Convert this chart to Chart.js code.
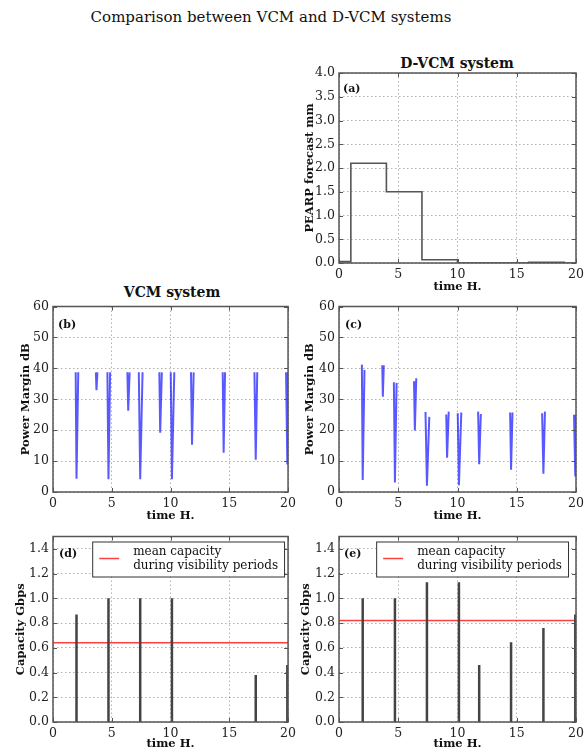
<!DOCTYPE html>
<html>
<head>
<meta charset="utf-8">
<script src="https://cdn.jsdelivr.net/npm/chart.js@4.4.1/dist/chart.umd.min.js"></script>
<style>
  body { margin: 0; background: #fff; width: 588px; height: 751px; overflow: hidden; position: relative; font-family: 'DejaVu Serif', serif; color: #111; }
  canvas { position: absolute; }
  .txt { position: absolute; transform: translate(-50%, -50%); white-space: nowrap; line-height: 1; }
  .lab { position: absolute; transform: translateY(-50%); white-space: nowrap; line-height: 1; font-size: 11px; font-weight: bold; }
</style>
</head>
<body>
<div class="txt" style="left:271px;top:17px;font-size:15px;">Comparison between VCM and D-VCM systems</div>
<div class="txt" style="left:457px;top:63px;font-size:14px;font-weight:bold;">D-VCM system</div>
<div class="txt" style="left:172px;top:292px;font-size:14px;font-weight:bold;">VCM system</div>

<canvas id="chartA" width="298" height="245" style="left:290px;top:55px"></canvas>
<canvas id="chartB" width="300" height="230" style="left:0px;top:295px"></canvas>
<canvas id="chartC" width="298" height="230" style="left:290px;top:295px"></canvas>
<canvas id="chartD" width="300" height="226" style="left:0px;top:525px"></canvas>
<canvas id="chartE" width="298" height="226" style="left:290px;top:525px"></canvas>

<div class="lab" style="left:343px;top:88px;">(a)</div>
<div class="lab" style="left:58px;top:324px;">(b)</div>
<div class="lab" style="left:345px;top:324px;">(c)</div>
<div class="lab" style="left:59px;top:553px;">(d)</div>
<div class="lab" style="left:344px;top:553px;">(e)</div>

<script>
// (a) rain forecast, step curve
const forecastTime = [0, 1, 4, 7, 10, 16, 19, 20];
const forecastRain = [0.03, 2.1, 1.5, 0.07, 0.0, 0.015, 0.0, 0.0];

// visibility passes (hours): start, time of minimum margin, end
const passStart = [1.93, 3.65, 4.63, 6.33, 7.30, 9.05, 10.02, 11.74, 14.44, 17.14, 19.83];
const passMid   = [2.00, 3.70, 4.72, 6.40, 7.42, 9.12, 10.12, 11.83, 14.52, 17.25, 19.94];
const passEnd   = [2.15, 3.78, 4.86, 6.52, 7.62, 9.26, 10.32, 11.97, 14.64, 17.38, 20.00];

// (b) VCM power margin dB
const vcmMarginStart = [38.7, 38.7, 38.7, 38.7, 38.7, 38.7, 38.7, 38.7, 38.7, 38.7, 38.7];
const vcmMarginMin   = [4.3, 32.9, 4.1, 26.3, 4.1, 19.2, 4.1, 15.3, 12.7, 10.4, 8.9];
const vcmMarginEnd   = [38.7, 38.7, 38.7, 38.7, 38.7, 38.7, 38.7, 38.7, 38.7, 38.7, 38.7];

// (c) D-VCM power margin dB
const dvcmMarginStart = [41.2, 41.0, 35.5, 35.8, 25.9, 25.1, 25.5, 26.0, 25.7, 25.5, 25.0];
const dvcmMarginMin   = [3.9, 30.8, 3.1, 19.9, 2.0, 11.1, 2.2, 9.0, 7.2, 5.9, 5.0];
const dvcmMarginEnd   = [39.5, 41.0, 35.3, 36.8, 24.3, 26.0, 25.7, 25.2, 25.7, 26.0, 25.0];

// (d), (e) peak capacity per pass, Gbps
const vcmCapacity  = [0.87, 0, 1.0, 0, 1.0, 0, 1.0, 0, 0, 0.38, 0.46];
const dvcmCapacity = [1.0, 0, 1.0, 0, 1.13, 0, 1.13, 0.46, 0.645, 0.76, 0.87];
const vcmMeanCapacity = 0.64;
const dvcmMeanCapacity = 0.82;

const timeRange = [0, 20];
const meanLabel = ['mean capacity', 'during visibility periods'];

const FONT = "'DejaVu Serif', serif";

function passPoints(startVals, minVals, endVals) {
  const pts = [];
  passStart.forEach(function (t, i) {
    pts.push({ x: t, y: startVals[i] });
    pts.push({ x: passMid[i], y: minVals[i] });
    pts.push({ x: passEnd[i], y: endVals[i] });
    pts.push({ x: passEnd[i], y: null });
  });
  return pts;
}

// one thin vertical bar per pass
function spikePoints(peaks) {
  const pts = [];
  passMid.forEach(function (t, i) {
    if (!peaks[i]) return;
    pts.push({ x: t, y: 0 });
    pts.push({ x: t, y: peaks[i] });
    pts.push({ x: t, y: null });
  });
  return pts;
}

// box round the plot plus inward ticks, like matplotlib
var frame = {
  id: 'frame',
  afterDatasetsDraw: function (chart) {
    var ctx = chart.ctx, a = chart.chartArea, sx = chart.scales.x, sy = chart.scales.y;
    ctx.save();
    ctx.strokeStyle = '#555';
    ctx.lineWidth = 1;
    ctx.beginPath();
    sx.ticks.forEach(function (t) {
      var px = Math.round(sx.getPixelForValue(t.value)) + 0.5;
      ctx.moveTo(px, a.bottom); ctx.lineTo(px, a.bottom - 4);
      ctx.moveTo(px, a.top); ctx.lineTo(px, a.top + 4);
    });
    sy.ticks.forEach(function (t) {
      var py = Math.round(sy.getPixelForValue(t.value)) + 0.5;
      ctx.moveTo(a.left, py); ctx.lineTo(a.left + 4, py);
      ctx.moveTo(a.right, py); ctx.lineTo(a.right - 4, py);
    });
    ctx.stroke();
    ctx.lineWidth = 1.5;
    ctx.strokeRect(a.left, a.top, a.right - a.left, a.bottom - a.top);
    ctx.restore();
  }
};

// legend box in the upper right corner (only datasets flagged with legend)
var boxLegend = {
  id: 'boxLegend',
  afterDraw: function (chart) {
    var ds = chart.data.datasets.find(function (d) { return d.inLegend; });
    if (!ds) return;
    var ctx = chart.ctx, a = chart.chartArea;
    var lines = ds.label.split('\n');
    ctx.save();
    ctx.font = '12px ' + FONT;
    var textW = Math.max.apply(null, lines.map(function (l) { return ctx.measureText(l).width; }));
    var right = a.right - (chart.options.legendInset || 5);
    var left = right - (textW + 47);
    var top = a.top + 5, bottom = a.top + 40;
    ctx.fillStyle = '#fff';
    ctx.fillRect(left, top, right - left, bottom - top);
    ctx.strokeStyle = '#333';
    ctx.lineWidth = 1;
    ctx.strokeRect(left + 0.5, top + 0.5, right - left, bottom - top);
    ctx.strokeStyle = ds.borderColor;
    ctx.lineWidth = 1.5;
    ctx.beginPath();
    ctx.moveTo(left + 7, top + 17); ctx.lineTo(left + 27, top + 17);
    ctx.stroke();
    ctx.fillStyle = '#111';
    ctx.textBaseline = 'middle';
    ctx.fillText(lines[0], left + 41, top + 10);
    ctx.fillText(lines[1], left + 41, top + 24);
    ctx.restore();
  }
};

function makeChart(id, datasets, yOpt, geo) {
  return new Chart(document.getElementById(id), {
    type: 'line',
    data: { datasets: datasets },
    options: {
      responsive: false,
      animation: false,
      legendInset: geo.legendInset,
      layout: { padding: { top: geo.padTop, right: geo.padRight, left: 0, bottom: 0 } },
      elements: { point: { radius: 0 }, line: { tension: 0 } },
      plugins: { legend: { display: false }, tooltip: { enabled: false } },
      scales: {
        x: {
          type: 'linear',
          min: timeRange[0],
          max: timeRange[1],
          afterFit: function (s) { s.height = geo.xHeight; },
          grid: { color: 'rgba(0,0,0,0.3)', drawTicks: false },
          border: { display: false, dash: [1.5, 2.5] },
          ticks: { stepSize: 5, padding: 4, color: '#222', font: { family: FONT, size: 12.5 }, maxRotation: 0, includeBounds: false },
          title: { display: true, text: 'time H.', color: '#111', font: { family: FONT, size: 11.5, weight: 'bold' }, padding: { top: 0, bottom: geo.xTitlePad } }
        },
        y: {
          type: 'linear',
          min: yOpt.min,
          max: yOpt.max,
          afterFit: function (s) { s.width = geo.yWidth; },
          grid: { color: 'rgba(0,0,0,0.3)', drawTicks: false },
          border: { display: false, dash: [1.5, 2.5] },
          ticks: {
            stepSize: yOpt.step, padding: 4, color: '#222', includeBounds: false,
            font: { family: FONT, size: 12.5 },
            callback: function (v) { return yOpt.decimals ? v.toFixed(yOpt.decimals) : String(v); }
          },
          title: { display: true, text: yOpt.title, color: '#111', font: { family: FONT, size: 11.5, weight: 'bold' }, padding: { top: geo.yTitlePad, bottom: 0 } }
        }
      }
    },
    plugins: [frame, boxLegend]
  });
}

var leftCol = { yWidth: 53, padRight: 9 };
var rightCol = { yWidth: 49, padRight: 12 };

// (a) forecast
makeChart('chartA', [{
  data: forecastTime.map(function (t, i) { return { x: t, y: forecastRain[i] }; }),
  borderColor: '#555',
  borderWidth: 1.6,
  stepped: 'before'
}], { min: 0, max: 4, step: 0.5, decimals: 1, title: 'PEARP forecast mm' },
  Object.assign({ padTop: 18, xHeight: 37, xTitlePad: 6.4, yTitlePad: 13 }, rightCol));

// (b) VCM margin
makeChart('chartB', [{
  data: passPoints(vcmMarginStart, vcmMarginMin, vcmMarginEnd),
  borderColor: 'rgba(0,0,255,0.65)',
  borderWidth: 2,
  spanGaps: false
}], { min: 0, max: 60, step: 10, decimals: 0, title: 'Power Margin dB' },
  Object.assign({ padTop: 8, xHeight: 33, xTitlePad: 2.4, yTitlePad: 19 }, leftCol));

// (c) D-VCM margin
makeChart('chartC', [{
  data: passPoints(dvcmMarginStart, dvcmMarginMin, dvcmMarginEnd),
  borderColor: 'rgba(0,0,255,0.65)',
  borderWidth: 2,
  spanGaps: false
}], { min: 0, max: 60, step: 10, decimals: 0, title: 'Power Margin dB' },
  Object.assign({ padTop: 8, xHeight: 33, xTitlePad: 2.4, yTitlePad: 13 }, rightCol));

// (d) VCM capacity
makeChart('chartD', [{
  data: spikePoints(vcmCapacity),
  borderColor: '#444',
  borderWidth: 2.5,
  spanGaps: false
}, {
  label: meanLabel.join('\n'),
  inLegend: true,
  data: [{ x: timeRange[0], y: vcmMeanCapacity }, { x: timeRange[1], y: vcmMeanCapacity }],
  borderColor: 'rgba(255,0,0,0.75)',
  borderWidth: 1.5
}], { min: 0, max: 1.5, step: 0.2, decimals: 1, title: 'Capacity Gbps' },
  Object.assign({ padTop: 8, xHeight: 29, xTitlePad: 0, yTitlePad: 14, legendInset: 4 }, leftCol));

// (e) D-VCM capacity
makeChart('chartE', [{
  data: spikePoints(dvcmCapacity),
  borderColor: '#444',
  borderWidth: 2.5,
  spanGaps: false
}, {
  label: meanLabel.join('\n'),
  inLegend: true,
  data: [{ x: timeRange[0], y: dvcmMeanCapacity }, { x: timeRange[1], y: dvcmMeanCapacity }],
  borderColor: 'rgba(255,0,0,0.75)',
  borderWidth: 1.5
}], { min: 0, max: 1.5, step: 0.2, decimals: 1, title: 'Capacity Gbps' },
  Object.assign({ padTop: 8, xHeight: 29, xTitlePad: 0, yTitlePad: 9, legendInset: 8 }, rightCol));
</script>
</body>
</html>
